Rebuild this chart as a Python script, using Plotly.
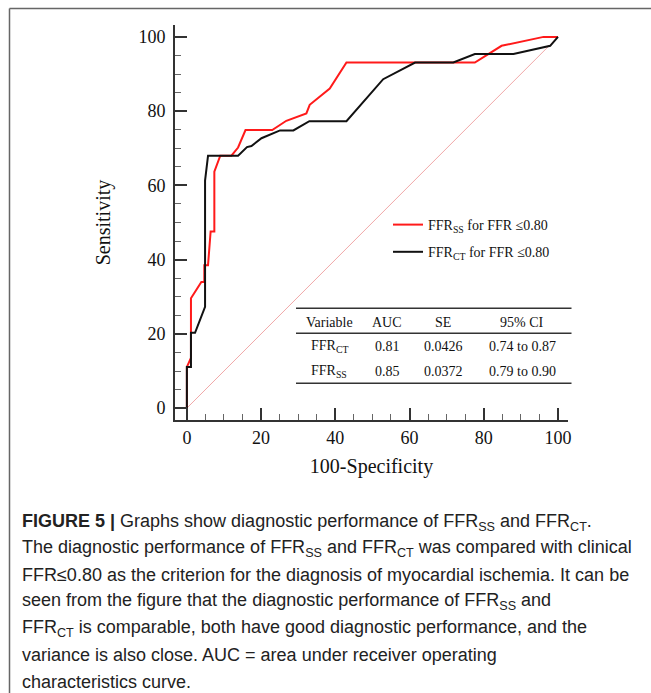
import plotly.graph_objects as go

# ---- data ----
ss_x = [0, 0, 1.1, 1.1, 3.9, 4.7, 4.7, 5.7, 6.4, 7.4, 7.4, 9.0, 12.0, 13.8, 15.8, 23.0, 26.8, 32.2, 33.1, 38.5, 43.0, 77.6, 84.8, 96.1, 100]
ss_y = [0, 11.1, 13.5, 29.6, 34.0, 34.0, 38.5, 38.5, 47.6, 47.6, 63.7, 68.0, 68.0, 70.2, 74.9, 74.9, 77.4, 79.4, 81.7, 86.1, 93.1, 93.1, 97.6, 100, 100]

ct_x = [0, 0, 1.1, 1.1, 2.2, 4.9, 4.9, 5.7, 13.8, 16.2, 17.4, 20.1, 25.1, 28.7, 33.0, 43.0, 52.9, 61.5, 71.8, 77.6, 88.0, 97.9, 100]
ct_y = [0, 11.1, 11.1, 20.3, 20.3, 27.3, 61.3, 68.0, 68.0, 70.3, 70.6, 72.7, 74.8, 74.8, 77.3, 77.3, 88.6, 93.1, 93.1, 95.4, 95.4, 97.6, 100]

diag_x = [0, 100]
diag_y = [0, 100]

tick_vals = [0, 20, 40, 60, 80, 100]

table_header = ["Variable", "AUC", "SE", "95% CI"]
table_rows = [
    ["FFR<sub>CT</sub>", "0.81", "0.0426", "0.74 to 0.87"],
    ["FFR<sub>SS</sub>", "0.85", "0.0372", "0.79 to 0.90"],
]

caption_lines = [
    "<b>FIGURE 5 |</b> Graphs show diagnostic performance of FFR<sub>SS</sub> and FFR<sub>CT</sub>.",
    "The diagnostic performance of FFR<sub>SS</sub> and FFR<sub>CT</sub> was compared with clinical",
    "FFR≤0.80 as the criterion for the diagnosis of myocardial ischemia. It can be",
    "seen from the figure that the diagnostic performance of FFR<sub>SS</sub> and",
    "FFR<sub>CT</sub> is comparable, both have good diagnostic performance, and the",
    "variance is also close. AUC = area under receiver operating",
    "characteristics curve.",
]

# ---- layout geometry (pixels) ----
W, H = 651, 693
L, R, T, B = 175, 568, 25, 420
PW, PH = R - L, B - T

def px(xp):
    return (xp - L) / PW

def py(yp):
    return (B - yp) / PH

SERIF = "Liberation Serif"
SANS = "Liberation Sans"

fig = go.Figure()
fig.add_trace(go.Scatter(x=diag_x, y=diag_y, mode="lines",
                         line=dict(color="#f0a8a8", width=1), showlegend=False, hoverinfo="skip"))
fig.add_trace(go.Scatter(x=ss_x, y=ss_y, mode="lines", name="FFR<sub>SS</sub> for FFR ≤0.80",
                         line=dict(color="#ff1a1a", width=2), legendgroup="ss"))
fig.add_trace(go.Scatter(x=ct_x, y=ct_y, mode="lines", name="FFR<sub>CT</sub> for FFR ≤0.80",
                         line=dict(color="#111111", width=2), legendgroup="ct"))

axis_common = dict(
    showgrid=False, zeroline=False, showline=True, linecolor="#333333", linewidth=2,
    ticks="inside", ticklen=12, tickwidth=2, tickcolor="#333333",
    tickvals=tick_vals, tickfont=dict(family=SERIF, size=18, color="#111111"),
    minor=dict(ticks="inside", ticklen=6, tickwidth=1.2, tickcolor="#666666", dtick=5, tick0=0),
)

fig.update_layout(
    width=W, height=H,
    margin=dict(l=L, r=W - R, t=T, b=H - B),
    paper_bgcolor="white", plot_bgcolor="white",
    xaxis=dict(range=[-3.2, 102.7], title=dict(text="100-Specificity", font=dict(family=SERIF, size=20, color="#111111"), standoff=12), **axis_common),
    yaxis=dict(range=[-3.2, 103.2], ticklabelstandoff=4,
               title=dict(text="Sensitivity", font=dict(family=SERIF, size=20, color="#111111"), standoff=22), **axis_common),
    legend=dict(x=px(388), y=py(209), xanchor="left", yanchor="top", bgcolor="rgba(0,0,0,0)",
                font=dict(family=SERIF, size=14, color="#111111"), tracegroupgap=6, traceorder="grouped"),
    showlegend=True,
)

shapes = []
# table rules
for yy in [308.3, 333.3, 383.3]:
    shapes.append(dict(type="line", xref="paper", yref="paper", x0=px(296), x1=px(571.5), y0=py(yy), y1=py(yy),
                       line=dict(color="#333333", width=1.5)))
# page border (top and left)
shapes.append(dict(type="line", xref="paper", yref="paper", x0=px(9.5), x1=px(651), y0=py(8.5), y1=py(8.5),
                   line=dict(color="#666666", width=1.5)))
shapes.append(dict(type="line", xref="paper", yref="paper", x0=px(9.5), x1=px(9.5), y0=py(8.5), y1=py(693),
                   line=dict(color="#666666", width=1.5)))
fig.update_layout(shapes=shapes)

annotations = []
col_x = [329, 387, 443, 522]
row_y = [322, 346.7, 371.7]
for cx, txt in zip(col_x, table_header):
    annotations.append(dict(x=px(cx), y=py(row_y[0]), xref="paper", yref="paper", text=txt, showarrow=False,
                            xanchor="center", yanchor="middle", font=dict(family=SERIF, size=14, color="#111111")))
for ry, row in zip(row_y[1:], table_rows):
    for cx, txt in zip(col_x, row):
        annotations.append(dict(x=px(cx), y=py(ry), xref="paper", yref="paper", text=txt, showarrow=False,
                                xanchor="center", yanchor="middle", font=dict(family=SERIF, size=14, color="#111111")))

cap_y0, cap_dy = 522, 26.6
for i, line in enumerate(caption_lines):
    annotations.append(dict(x=px(20), y=py(cap_y0 + i * cap_dy), xref="paper", yref="paper", text=line,
                            showarrow=False, xanchor="left", yanchor="middle", align="left",
                            font=dict(family=SANS, size=18, color="#222222")))
fig.update_layout(annotations=annotations)

fig.write_html("out.html")
